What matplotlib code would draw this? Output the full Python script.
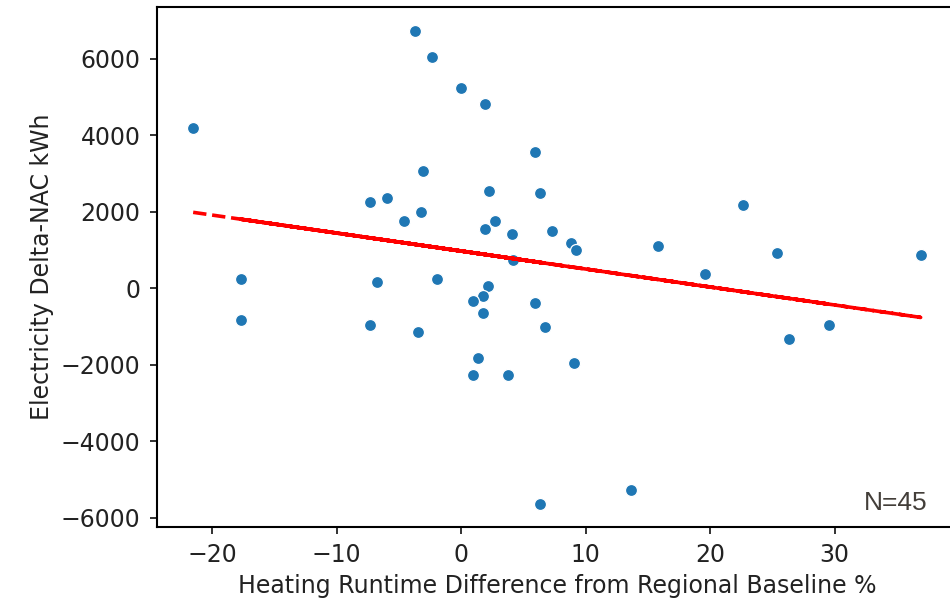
import numpy as np
import matplotlib
matplotlib.use("Agg")
import matplotlib.pyplot as plt

# heating runtime difference (%) vs electricity delta (kWh)
runtime_diff = [-21.52, -3.68, -2.31, -0.04, 1.94, 5.96, -3.09, 2.26, 6.36, -7.29,
                -5.98, -3.23, -4.61, 2.74, 1.91, 4.05, 7.33, 8.84, 9.25, 15.77,
                19.62, 22.67, 25.35, 36.90, 4.19, -17.64, -6.76, -1.91, 2.13, -17.70,
                -7.34, -3.47, 1.75, 0.92, 1.75, 5.96, 6.70, 1.38, 0.92, 3.79,
                6.36, 9.03, 26.36, 29.57, 13.66]
elec_delta = [4183, 6735, 6055, 5245, 4810, 3556, 3059, 2552, 2492, 2248,
              2369, 1995, 1752, 1752, 1550, 1427, 1490, 1192, 1001, 1114,
              366, 2178, 923, 863, 740, 245, 173, 251, 60, -829,
              -951, -1134, -193, -324, -638, -376, -1012, -1830, -2266, -2266,
              -5639, -1953, -1325, -951, -5266]

x = np.array(runtime_diff)
y = np.array(elec_delta)
m, b = np.polyfit(x, y, 1)

fig = plt.figure(figsize=(9.5, 6.05), dpi=100)
ax = fig.add_axes([157.3/950, 1-526.7/605, (958-157.3)/950, 520/605])

ax.scatter(x, y, s=75, color='#1f77b4', edgecolor='white', linewidth=0.9, zorder=2)
ax.plot(x, m*x + b, 'r--', lw=2.6, zorder=3)

ax.set_xlim(-24.4, 39.9)
ax.set_ylim(-6233, 7362)
ax.set_xticks([-20, -10, 0, 10, 20, 30])
ax.set_yticks([-6000, -4000, -2000, 0, 2000, 4000, 6000])

ax.tick_params(labelsize=17, length=5, width=1.3, pad=7, colors='#222222')
for sp in ax.spines.values():
    sp.set_linewidth(1.5)

ax.set_xlabel('Heating Runtime Difference from Regional Baseline %', fontsize=17, labelpad=5, color='#222222')
ax.set_ylabel('Electricity Delta-NAC kWh', fontsize=17, labelpad=5, color='#222222')

fig.text(928/950, 1-515/605, 'N=45', ha='right', va='bottom', fontsize=19,
         family='Liberation Sans', color='#433e39')

fig.savefig('out.png', dpi=100)
